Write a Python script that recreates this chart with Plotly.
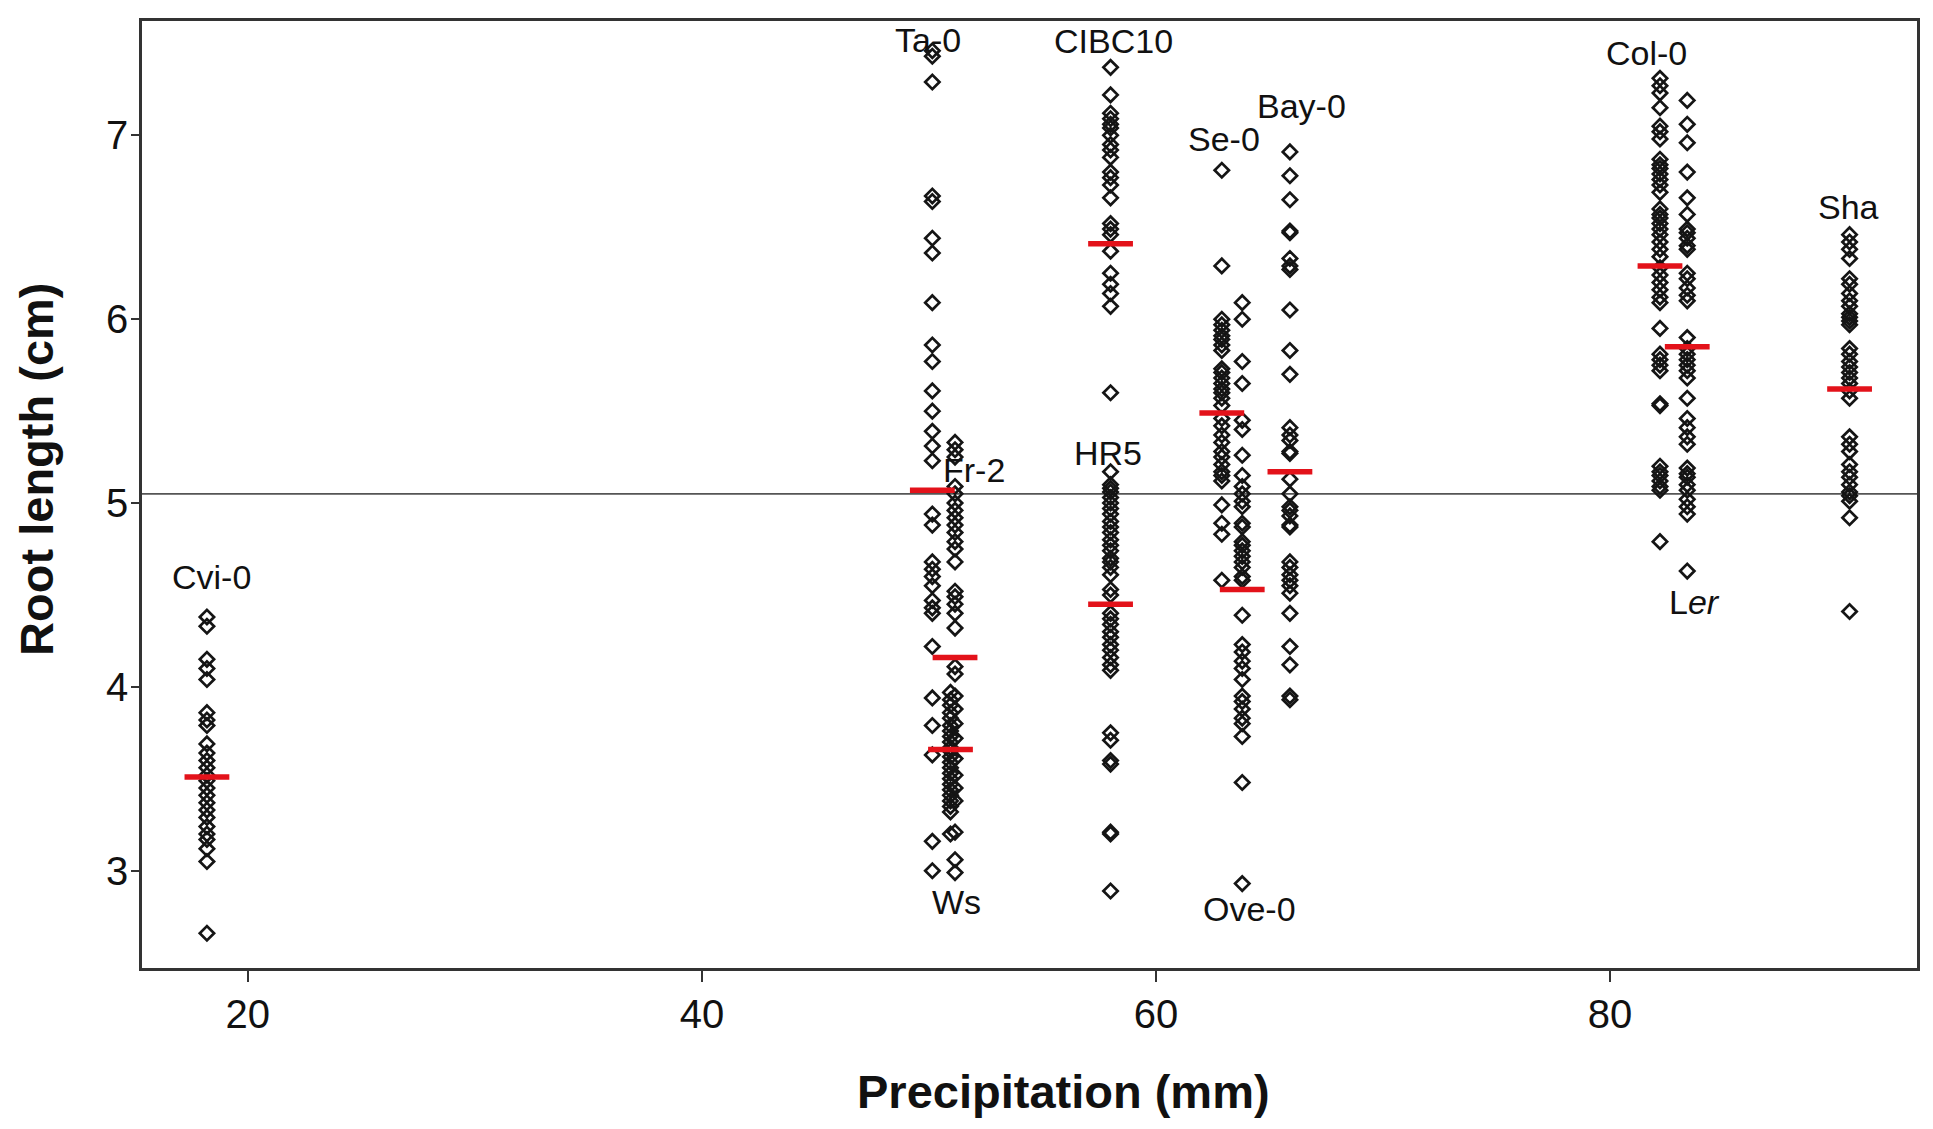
import plotly.graph_objects as go

# accession names, precipitation (mm) and individual root lengths (cm)
accessions = ["Cvi-0", "Ta-0", "Fr-2", "Ws", "CIBC10", "HR5", "Se-0", "Ove-0",
              "Bay-0", "Col-0", "Ler", "Sha"]
precip = [18.2, 50.15, 51.15, 50.95, 58.0, 58.0, 62.9, 63.8, 65.9, 82.2, 83.4, 90.55]

cvi0 = [4.38, 4.33, 4.15, 4.10, 4.04, 3.86, 3.82, 3.79, 3.69, 3.64, 3.60, 3.56, 3.52,
        3.49, 3.45, 3.41, 3.37, 3.33, 3.29, 3.24, 3.20, 3.17, 3.12, 3.05, 2.66]
ta0 = [7.46, 7.43, 7.29, 6.67, 6.64, 6.44, 6.36, 6.09, 5.86, 5.77, 5.61, 5.50, 5.39,
       5.31, 5.23, 4.94, 4.88, 4.68, 4.64, 4.60, 4.55, 4.47, 4.43, 4.40, 4.22, 3.94,
       3.79, 3.63, 3.16, 3.00]
fr2 = [5.33, 5.29, 5.25, 5.09, 5.05, 5.00, 4.96, 4.92, 4.88, 4.84, 4.79, 4.75, 4.68,
       4.52, 4.49, 4.45, 4.40, 4.32, 4.11, 4.07, 3.95, 3.88, 3.80, 3.72, 3.61, 3.52,
       3.45, 3.38, 3.21, 3.06, 2.99]
ws = [3.97, 3.93, 3.90, 3.86, 3.83, 3.79, 3.76, 3.73, 3.70, 3.67, 3.65, 3.62, 3.59,
      3.56, 3.53, 3.50, 3.47, 3.44, 3.41, 3.38, 3.35, 3.32, 3.20]
cibc10 = [7.37, 7.22, 7.12, 7.09, 7.06, 7.04, 7.00, 6.95, 6.92, 6.88, 6.80, 6.77, 6.73,
          6.66, 6.52, 6.49, 6.46, 6.37, 6.25, 6.19, 6.14, 6.07, 5.60]
hr5 = [5.17, 5.10, 5.08, 5.06, 5.03, 5.00, 4.97, 4.94, 4.90, 4.87, 4.84, 4.80, 4.77,
       4.74, 4.70, 4.68, 4.65, 4.61, 4.53, 4.50, 4.40, 4.37, 4.34, 4.30, 4.27, 4.23,
       4.20, 4.16, 4.12, 4.09, 3.75, 3.71, 3.60, 3.58, 3.21, 3.20, 2.89]
se0 = [6.81, 6.29, 6.00, 5.97, 5.94, 5.91, 5.89, 5.86, 5.83, 5.73, 5.71, 5.68, 5.65,
       5.62, 5.60, 5.57, 5.53, 5.46, 5.42, 5.37, 5.33, 5.28, 5.25, 5.21, 5.17, 5.15,
       5.12, 4.99, 4.89, 4.83, 4.58]
ove0 = [6.09, 6.00, 5.77, 5.65, 5.45, 5.40, 5.26, 5.15, 5.09, 5.05, 5.01, 4.98, 4.89,
        4.87, 4.79, 4.77, 4.74, 4.71, 4.68, 4.65, 4.60, 4.58, 4.39, 4.23, 4.19, 4.14,
        4.10, 4.04, 3.95, 3.92, 3.88, 3.83, 3.80, 3.73, 3.48, 2.93]
bay0 = [6.91, 6.78, 6.65, 6.48, 6.47, 6.33, 6.29, 6.27, 6.05, 5.83, 5.70, 5.41, 5.37,
        5.34, 5.28, 5.27, 5.13, 5.05, 4.98, 4.96, 4.93, 4.88, 4.87, 4.68, 4.65, 4.61,
        4.58, 4.55, 4.51, 4.40, 4.22, 4.12, 3.95, 3.93]
col0 = [7.31, 7.27, 7.23, 7.15, 7.05, 7.02, 6.98, 6.87, 6.84, 6.82, 6.79, 6.76, 6.73,
        6.69, 6.60, 6.57, 6.55, 6.52, 6.49, 6.46, 6.42, 6.38, 6.34, 6.28, 6.24, 6.20,
        6.16, 6.12, 6.09, 5.95, 5.81, 5.78, 5.75, 5.72, 5.54, 5.53, 5.20, 5.17, 5.15,
        5.12, 5.09, 5.07, 4.79]
ler = [7.19, 7.06, 6.96, 6.80, 6.66, 6.57, 6.49, 6.47, 6.44, 6.40, 6.38, 6.25, 6.22,
       6.17, 6.13, 6.10, 5.90, 5.84, 5.81, 5.78, 5.75, 5.72, 5.68, 5.57, 5.46, 5.41,
       5.36, 5.32, 5.19, 5.16, 5.14, 5.10, 5.07, 5.02, 4.98, 4.94, 4.63]
sha = [6.46, 6.42, 6.38, 6.33, 6.22, 6.19, 6.14, 6.10, 6.07, 6.03, 6.01, 5.99, 5.97,
       5.84, 5.81, 5.77, 5.74, 5.71, 5.68, 5.65, 5.61, 5.57, 5.36, 5.32, 5.28, 5.21,
       5.17, 5.14, 5.10, 5.06, 5.04, 5.01, 4.92, 4.41]

root_values = [cvi0, ta0, fr2, ws, cibc10, hr5, se0, ove0, bay0, col0, ler, sha]
mean_root = [3.51, 5.07, 4.16, 3.66, 6.41, 4.45, 5.49, 4.53, 5.17, 6.29, 5.85, 5.62]
grand_mean = 5.05

# where each accession name sits (x, y in data units)
label_text = ["Cvi-0", "Ta-0", "Fr-2", "Ws", "CIBC10", "HR5", "Se-0", "Ove-0",
              "Bay-0", "Col-0", "L<i>er</i>", "Sha"]
label_x = [18.4, 49.95, 52.0, 51.2, 58.15, 57.9, 63.0, 64.1, 66.4, 81.6, 83.7, 90.5]
label_y = [4.60, 7.52, 5.18, 2.83, 7.515, 5.27, 6.98, 2.79, 7.16, 7.45, 4.46, 6.61]

FONT = "Liberation Sans, Arial, sans-serif"

fig = go.Figure()

for name, px_, vals in zip(accessions, precip, root_values):
    fig.add_trace(go.Scatter(
        x=[px_] * len(vals), y=vals, mode="markers", name=name,
        marker=dict(symbol="diamond-open", size=11, color="#151515",
                    line=dict(width=2.7, color="#151515")),
    ))

fig.add_trace(go.Scatter(
    x=precip, y=mean_root, mode="markers", name="mean",
    marker=dict(symbol="line-ew", size=32, color="#e3121a",
                line=dict(width=5.5, color="#e3121a")),
))

fig.add_hline(y=grand_mean, line=dict(color="#555555", width=1.6), layer="below")

for t, lx, ly in zip(label_text, label_x, label_y):
    fig.add_annotation(x=lx, y=ly, text=t, showarrow=False,
                       font=dict(family=FONT, size=34, color="#111111"))

# axis titles sit a little off-centre in the original, so they are placed by hand
fig.add_annotation(x=0.519, y=0, xref="paper", yref="paper", yshift=-123,
                   text="<b>Precipitation (mm)</b>", showarrow=False,
                   xanchor="center", yanchor="middle",
                   font=dict(family=FONT, size=47, color="#111111"))
fig.add_annotation(x=0, y=0.526, xref="paper", yref="paper", xshift=-105,
                   text="<b>Root length (cm)</b>", showarrow=False, textangle=-90,
                   xanchor="center", yanchor="middle",
                   font=dict(family=FONT, size=47, color="#111111"))

# the page adds an 8px body margin, so the margins are trimmed to match
fig.update_layout(
    width=1933, height=1129,
    margin=dict(l=134, r=24, t=10, b=169),
    plot_bgcolor="white", paper_bgcolor="white",
    showlegend=False,
    font=dict(family=FONT, color="#111111"),
)
fig.update_xaxes(
    range=[15.34, 93.52], tickvals=[20, 40, 60, 80],
    showline=True, mirror=True, linecolor="#333333", linewidth=2.5,
    ticks="outside", ticklen=11, tickwidth=1.8, tickcolor="#333333",
    showgrid=False, zeroline=False, ticklabelstandoff=-2,
    tickfont=dict(size=40, color="#111111"),
)
fig.update_yaxes(
    range=[2.471, 7.622], tickvals=[3, 4, 5, 6, 7],
    showline=True, mirror=True, linecolor="#333333", linewidth=2.5,
    ticks="outside", ticklen=8, tickwidth=1.8, tickcolor="#333333",
    showgrid=False, zeroline=False, ticklabelstandoff=-5,
    tickfont=dict(size=40, color="#111111"),
)

fig.write_html("out.html")
